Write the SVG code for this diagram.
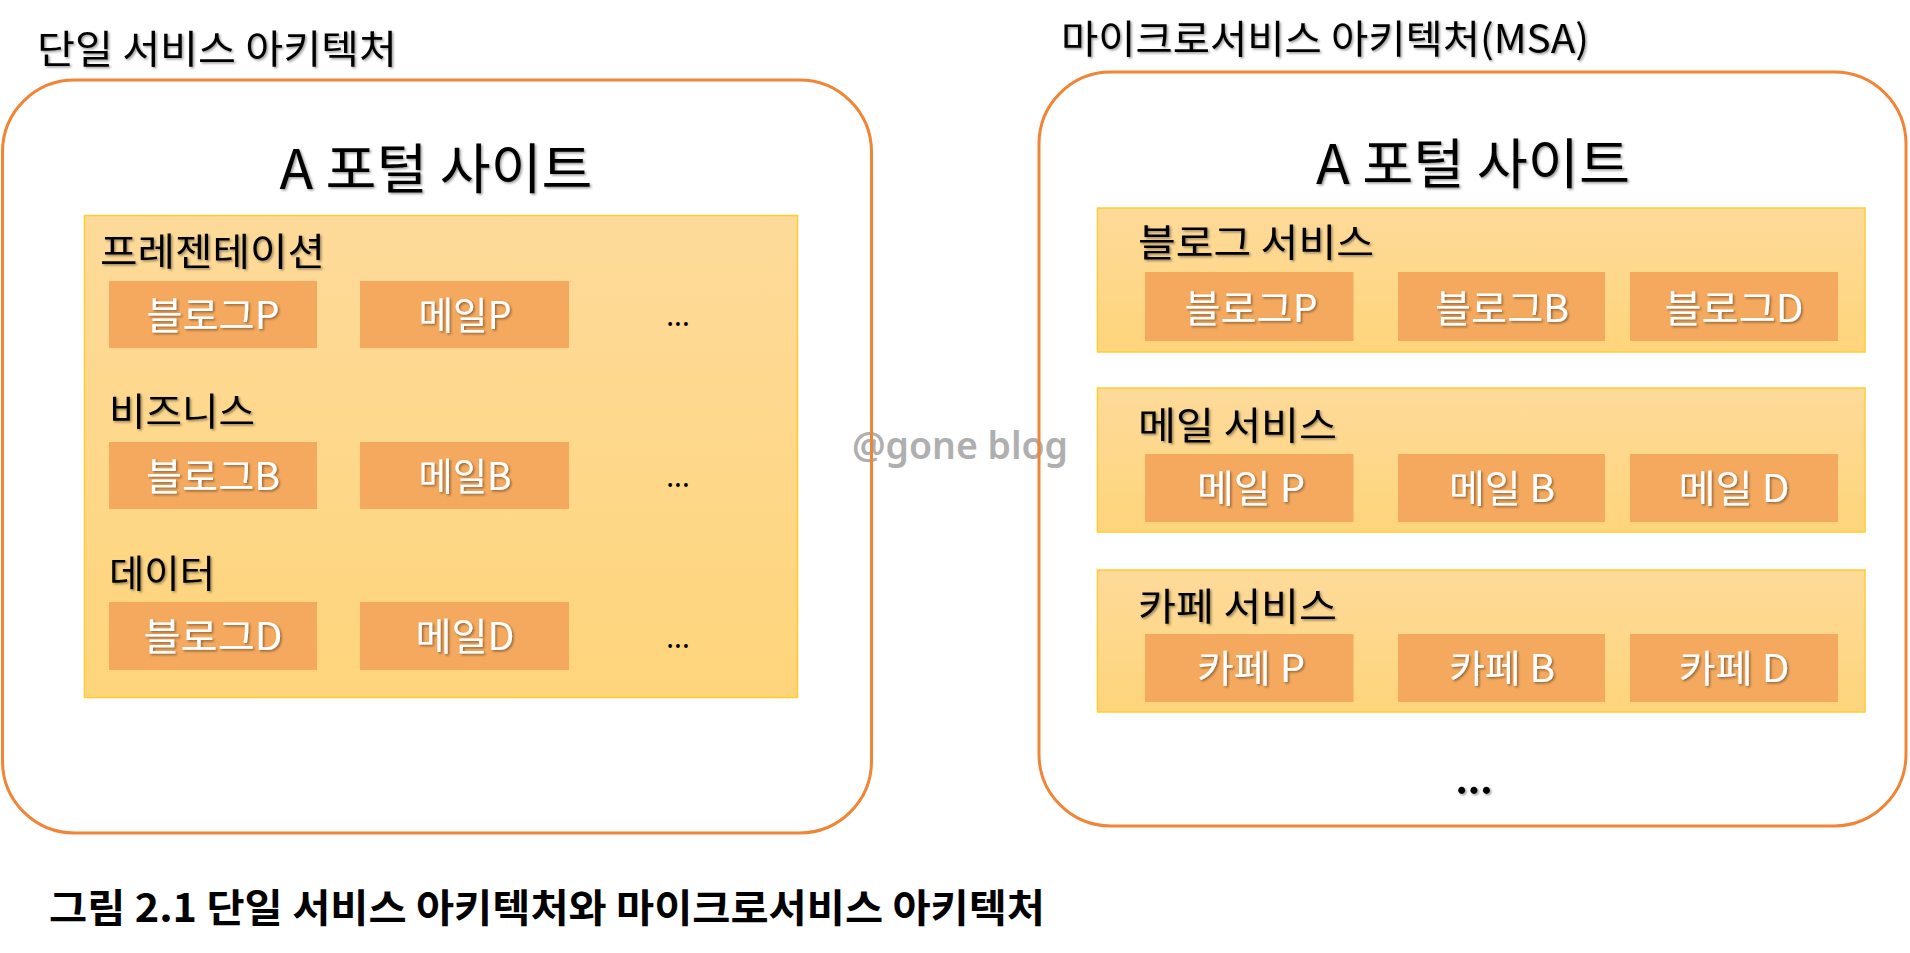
<svg xmlns="http://www.w3.org/2000/svg" width="1910" height="953" viewBox="0 0 1910 953">
<defs>
<linearGradient id="panelGrad" x1="0" y1="0" x2="0" y2="1">
<stop offset="0" stop-color="#FEDA9A"/>
<stop offset="1" stop-color="#FED57B"/>
</linearGradient>
<filter id="sh" x="-10%" y="-20%" width="120%" height="150%">
<feDropShadow dx="1.5" dy="1.5" stdDeviation="1" flood-color="#000" flood-opacity="0.4"/>
</filter>
</defs>
<style>
.outer{fill:none;stroke:#F08536;stroke-width:3}
.panel{fill:url(#panelGrad);stroke:#FFCC33;stroke-width:1.5}
.box{fill:#F4A95E}
.t{font-family:"Noto Sans CJK KR","Noto Sans",sans-serif;fill:#000}
.title{font-size:39px}
.big{font-size:54px}
.lbl{font-size:38px}
.w{font-family:"Noto Sans CJK KR","Noto Sans",sans-serif;font-size:38px;fill:#fff;text-anchor:middle}
.dots{font-family:"Noto Sans CJK KR","Noto Sans",sans-serif;font-size:28px;fill:#000;text-anchor:middle}
.sh{filter:url(#sh)}
</style>
<rect width="1910" height="953" fill="#fff"/>

<g id="watermark">
<text x="852" y="459" font-family="'Noto Sans','Open Sans',sans-serif" font-weight="600" font-size="38" fill="#AFAFAF" textLength="216" lengthAdjust="spacingAndGlyphs">@gone blog</text>
</g>

<g id="monolith">
<text class="t title sh" x="37" y="63" textLength="360" lengthAdjust="spacingAndGlyphs">단일 서비스 아키텍처</text>
<rect class="outer" x="2.5" y="80" width="869" height="753" rx="72" ry="72"/>
<text class="t big sh" x="436" y="189" text-anchor="middle" textLength="313" lengthAdjust="spacingAndGlyphs">A 포털 사이트</text>
<g id="mono-panel">
<rect class="panel" x="84.5" y="215.5" width="713" height="482"/>
<g id="layer-presentation">
<text class="t lbl sh" x="100" y="265" textLength="225" lengthAdjust="spacingAndGlyphs">프레젠테이션</text>
<g id="blogP"><rect class="box" x="109" y="281" width="208" height="67"/><text class="w sh" x="213" y="329" textLength="133" lengthAdjust="spacingAndGlyphs">블로그P</text></g>
<g id="mailP"><rect class="box" x="360" y="281" width="209" height="67"/><text class="w sh" x="465" y="329" textLength="93" lengthAdjust="spacingAndGlyphs">메일P</text></g>
<text class="dots" x="678" y="326">...</text>
</g>
<g id="layer-business">
<text class="t lbl sh" x="109" y="425" textLength="146" lengthAdjust="spacingAndGlyphs">비즈니스</text>
<g id="blogB"><rect class="box" x="109" y="442" width="208" height="67"/><text class="w sh" x="213" y="490" textLength="134" lengthAdjust="spacingAndGlyphs">블로그B</text></g>
<g id="mailB"><rect class="box" x="360" y="442" width="209" height="67"/><text class="w sh" x="465" y="490" textLength="93" lengthAdjust="spacingAndGlyphs">메일B</text></g>
<text class="dots" x="678" y="487">...</text>
</g>
<g id="layer-data">
<text class="t lbl sh" x="109" y="587" textLength="106" lengthAdjust="spacingAndGlyphs">데이터</text>
<g id="blogD"><rect class="box" x="109" y="602" width="208" height="68"/><text class="w sh" x="213" y="650" textLength="139" lengthAdjust="spacingAndGlyphs">블로그D</text></g>
<g id="mailD"><rect class="box" x="360" y="602" width="209" height="68"/><text class="w sh" x="465" y="650" textLength="99" lengthAdjust="spacingAndGlyphs">메일D</text></g>
<text class="dots" x="678" y="648">...</text>
</g>
</g>
</g>

<g id="msa">
<text class="t title sh" x="1061" y="53" textLength="528" lengthAdjust="spacingAndGlyphs">마이크로서비스 아키텍처(MSA)</text>
<rect class="outer" x="1039" y="72" width="867" height="754" rx="72" ry="72"/>
<text class="t big sh" x="1473" y="184" text-anchor="middle" textLength="314" lengthAdjust="spacingAndGlyphs">A 포털 사이트</text>
<g id="blog-service">
<rect class="panel" x="1097.5" y="208" width="767.5" height="144"/>
<text class="t lbl sh" x="1138" y="256" textLength="236" lengthAdjust="spacingAndGlyphs">블로그 서비스</text>
<g id="msa-blogP"><rect class="box" x="1145" y="272" width="208.5" height="69"/><text class="w sh" x="1251" y="322" textLength="133" lengthAdjust="spacingAndGlyphs">블로그P</text></g>
<g id="msa-blogB"><rect class="box" x="1398" y="272" width="207" height="69"/><text class="w sh" x="1502" y="322" textLength="134" lengthAdjust="spacingAndGlyphs">블로그B</text></g>
<g id="msa-blogD"><rect class="box" x="1630" y="272" width="208" height="69"/><text class="w sh" x="1734" y="322" textLength="139" lengthAdjust="spacingAndGlyphs">블로그D</text></g>
</g>
<g id="mail-service">
<rect class="panel" x="1097.5" y="388" width="767.5" height="144"/>
<text class="t lbl sh" x="1138" y="439" textLength="199" lengthAdjust="spacingAndGlyphs">메일 서비스</text>
<g id="msa-mailP"><rect class="box" x="1145" y="454" width="208.5" height="68"/><text class="w sh" x="1251" y="502" textLength="108" lengthAdjust="spacingAndGlyphs">메일 P</text></g>
<g id="msa-mailB"><rect class="box" x="1398" y="454" width="207" height="68"/><text class="w sh" x="1502" y="502" textLength="106" lengthAdjust="spacingAndGlyphs">메일 B</text></g>
<g id="msa-mailD"><rect class="box" x="1630" y="454" width="208" height="68"/><text class="w sh" x="1734" y="502" textLength="111" lengthAdjust="spacingAndGlyphs">메일 D</text></g>
</g>
<g id="cafe-service">
<rect class="panel" x="1097.5" y="570" width="767.5" height="142"/>
<text class="t lbl sh" x="1138" y="620" textLength="199" lengthAdjust="spacingAndGlyphs">카페 서비스</text>
<g id="msa-cafeP"><rect class="box" x="1145" y="634" width="208.5" height="68"/><text class="w sh" x="1251" y="682" textLength="108" lengthAdjust="spacingAndGlyphs">카페 P</text></g>
<g id="msa-cafeB"><rect class="box" x="1398" y="634" width="207" height="68"/><text class="w sh" x="1502" y="682" textLength="106" lengthAdjust="spacingAndGlyphs">카페 B</text></g>
<g id="msa-cafeD"><rect class="box" x="1630" y="634" width="208" height="68"/><text class="w sh" x="1734" y="682" textLength="111" lengthAdjust="spacingAndGlyphs">카페 D</text></g>
</g>
<text class="t sh" x="1474" y="794" font-size="38" font-weight="bold" text-anchor="middle" textLength="37" lengthAdjust="spacingAndGlyphs">...</text>
</g>

<g id="caption">
<text class="t" x="49" y="922" font-size="39" font-weight="bold" textLength="996" lengthAdjust="spacingAndGlyphs">그림 2.1 단일 서비스 아키텍처와 마이크로서비스 아키텍처</text>
</g>
</svg>
